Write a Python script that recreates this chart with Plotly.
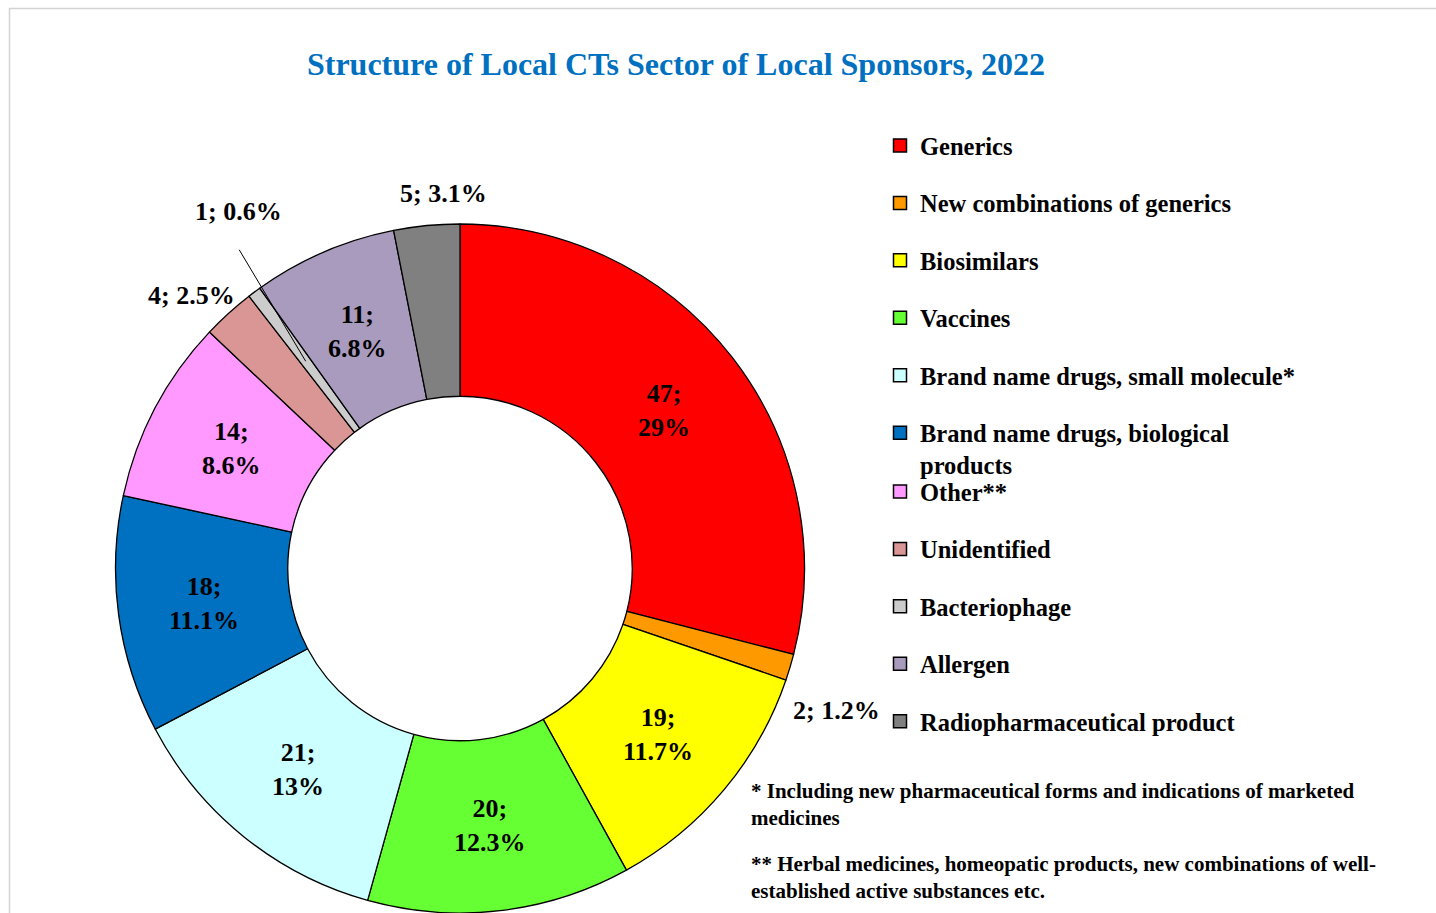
import math
import plotly.graph_objects as go

# ---------------- data ----------------
categories = [
    "Generics",
    "New combinations of generics",
    "Biosimilars",
    "Vaccines",
    "Brand name drugs, small molecule*",
    "Brand name drugs, biological<br>products",
    "Other**",
    "Unidentified",
    "Bacteriophage",
    "Allergen",
    "Radiopharmaceutical product",
]
values = [47, 2, 19, 20, 21, 18, 14, 4, 1, 11, 5]
colors = [
    "#FF0000", "#FF9900", "#FFFF00", "#66FF33", "#CCFFFF", "#0070C0",
    "#FF99FF", "#D99694", "#CCCCCC", "#A99BBD", "#808080",
]
# label placement style: "in" = inside ring, "out" = outside, "lead" = outside with leader line
label_mode = ["in", "out", "in", "in", "in", "in", "in", "out", "lead", "in", "out"]
# pixel nudges for the outside labels (relative to slice edge / ring point)
label_nudge = {1: (46, 43), 7: (-37, -18), 8: (-67, -150), 10: (17, -32)}
leader_tail = {8: (-68, -114)}

title_text = "Structure of Local CTs Sector of Local Sponsors, 2022"
note1 = "* Including new pharmaceutical forms and indications of marketed<br>medicines"
note2 = "** Herbal medicines, homeopatic products, new combinations of well-<br>established active substances etc."

# ---------------- layout geometry ----------------
W, H = 1436, 913
CX = 460.0
TOP = 224.0
R = (H - TOP) / 2.0
CY = TOP + R
HOLE = 0.5
FONT = "Liberation Serif, Times New Roman, serif"

def px2paper(x, y):
    return x / W, 1 - y / H

fig = go.Figure()
fig.add_trace(go.Pie(
    labels=categories,
    values=values,
    marker=dict(colors=colors, line=dict(color="black", width=1.3)),
    hole=HOLE,
    sort=False,
    direction="clockwise",
    rotation=0,
    textinfo="none",
    hoverinfo="label+value+percent",
    showlegend=False,
    domain=dict(x=[(CX - R) / W, (CX + R) / W], y=[0, 1 - TOP / H]),
))

# legend via dummy traces (to control spacing)
for i, (c, col) in enumerate(zip(categories, colors)):
    fig.add_trace(go.Scatter(
        x=[None], y=[None], mode="markers", name=c, legendgroup=c,
        marker=dict(symbol="square", size=13, color=col, line=dict(color="black", width=1.5)),
        legend="legend" if i < 6 else "legend2",
        hoverinfo="skip",
    ))

total = sum(values)
annotations = []
label_font = dict(family=FONT, size=26, color="black", weight="bold")
cum = 0.0
for i, v in enumerate(values):
    mid = (cum + v / 2.0) / total * 2 * math.pi
    cum += v
    pct = round(v / total * 100, 1)
    pct_s = ("%.1f" % pct).rstrip("0").rstrip(".")
    mode = label_mode[i]
    if mode == "in":
        rr = R * (1 + HOLE) / 2.0
        x = CX + rr * math.sin(mid)
        y = CY - rr * math.cos(mid)
        xp, yp = px2paper(x, y)
        annotations.append(dict(x=xp, y=yp, xref="paper", yref="paper",
                                text=f"{v};<br>{pct_s}%", showarrow=False,
                                font=label_font, xanchor="center", yanchor="middle"))
    elif mode == "out":
        x = CX + R * math.sin(mid)
        y = CY - R * math.cos(mid)
        dx, dy = label_nudge[i]
        xp, yp = px2paper(x + dx, y + dy)
        annotations.append(dict(x=xp, y=yp, xref="paper", yref="paper",
                                text=f"{v}; {pct_s}%", showarrow=False,
                                font=label_font, xanchor="center", yanchor="middle"))
    else:
        rr = R * (1 + HOLE) / 2.0
        x = CX + rr * math.sin(mid)
        y = CY - rr * math.cos(mid)
        dx, dy = label_nudge[i]
        tx, ty = leader_tail[i]
        xp, yp = px2paper(x + dx, y + dy)
        annotations.append(dict(x=xp, y=yp, xref="paper", yref="paper",
                                text=f"{v}; {pct_s}%", showarrow=False,
                                font=label_font, xanchor="center", yanchor="middle"))
        xq, yq = px2paper(x, y)
        annotations.append(dict(x=xq, y=yq, xref="paper", yref="paper",
                                text=" ", showarrow=True, ax=tx, ay=ty,
                                arrowhead=0, arrowwidth=1, arrowcolor="black",
                                font=dict(size=2)))

for txt, ytop in ((note1, 777), (note2, 850)):
    xp, yp = px2paper(749, ytop)
    annotations.append(dict(x=xp, y=yp, xref="paper", yref="paper", text=txt,
                            showarrow=False, xanchor="left", yanchor="top", align="left",
                            font=dict(family=FONT, size=21, color="black", weight="bold")))

legend_common = dict(
    font=dict(family=FONT, size=24.5, color="black", weight="bold"),
    xanchor="left", yanchor="top", valign="top",
    tracegroupgap=22.6, bgcolor="rgba(0,0,0,0)", borderwidth=0,
    itemclick=False, itemdoubleclick=False,
)
lx, ly1 = px2paper(880, 123)
_, ly2 = px2paper(880, 469)

fig.update_layout(
    width=W, height=H,
    margin=dict(l=0, r=0, t=0, b=0),
    paper_bgcolor="white", plot_bgcolor="white",
    font=dict(family=FONT, color="black"),
    title=dict(text=f"<b>{title_text}</b>", x=676 / W, xanchor="center",
               y=1 - 64 / H, yanchor="middle",
               font=dict(family=FONT, size=32, color="#0070C0")),
    xaxis=dict(visible=False), yaxis=dict(visible=False),
    legend=dict(x=lx, y=ly1, **legend_common),
    legend2=dict(x=lx, y=ly2, **legend_common),
    annotations=annotations,
    shapes=[dict(type="rect", xref="paper", yref="paper",
                 x0=9.5 / W, x1=1.05, y0=-0.05, y1=1 - 8.5 / H,
                 line=dict(color="#D4D4D4", width=1.5), layer="below")],
)

fig.write_html("out.html")
